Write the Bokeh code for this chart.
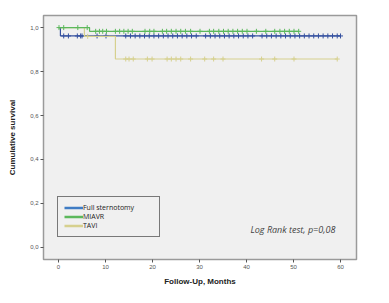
import numpy as np
from bokeh.plotting import figure
from bokeh.models import Range1d, FixedTicker, CustomJSTickFormatter, Label, Legend, LegendItem
from bokeh.embed import file_html
from bokeh.resources import INLINE

# ---- data ----
series_names = ["Full sternotomy", "MIAVR", "TAVI"]
series_colors = ["#34509f", "#5cb85c", "#d6d08e"]

full_t = [0, 0.4, 60]
full_s = [1.0, 0.962, 0.962]
full_cens = [1.1, 2.1, 4.0, 4.7, 5.0, 8.2, 10.1, 14.3, 15.3, 16.3, 17.3, 18.3, 19.3, 20.3,
             21.3, 22.3, 23.3, 24.3, 25.3, 26.3, 27.3, 28.3, 29.3, 31.3, 32.3, 33.3, 34.3,
             35.3, 36.3, 37.3, 38.3, 39.3, 40.3, 41.3, 43.3, 44.3, 45.3, 46.3, 47.3, 48.3,
             49.3, 50.3, 51.3, 52.3, 53.3, 54.3, 55.3, 56.3, 57.3, 58.3, 59.3, 60.0]

miavr_t = [0, 6.6, 51.1]
miavr_s = [1.0, 0.983, 0.983]
miavr_cens = [0.1, 1.1, 4.1, 6.1, 7.9, 8.7, 9.4, 10.2, 12.1, 13.0, 13.9, 14.8, 15.7, 18.4,
              19.4, 20.3, 22.1, 23.0, 24.0, 25.0, 26.0, 27.0, 28.1, 30.1, 32.1, 33.0, 34.1,
              35.1, 36.1, 37.1, 38.1, 39.1, 40.1, 42.1, 44.1, 46.0, 47.1, 48.1, 49.1, 50.1, 51.1]

tavi_t = [0, 5.5, 12.1, 59.3]
tavi_s = [1.0, 0.96, 0.857, 0.857]
tavi_cens = [6.2, 14.3, 15.0, 15.9, 18.9, 19.9, 23.1, 24.0, 25.0, 26.0, 28.1, 31.1, 33.0,
             35.0, 43.2, 46.0, 50.1, 59.3]

y_ticks = [0.0, 0.2, 0.4, 0.6, 0.8, 1.0]
x_ticks = [0, 10, 20, 30, 40, 50, 60]

p = figure(width=381, height=295, output_backend="svg", toolbar_location=None,
           x_range=Range1d(-3.2, 63.4), y_range=Range1d(-0.055, 1.055),
           min_border_left=43, min_border_right=25, min_border_top=15, min_border_bottom=36)
p.background_fill_color = "#f0f0f0"
p.border_fill_color = "white"
p.outline_line_color = "#9a9a9a"
p.outline_line_width = 1.5
p.xgrid.visible = False
p.ygrid.visible = False

fmt = CustomJSTickFormatter(code="return tick.toFixed(1).replace('.', ',');")
p.yaxis.ticker = FixedTicker(ticks=y_ticks)
p.yaxis.formatter = fmt
p.xaxis.ticker = FixedTicker(ticks=x_ticks)
for ax in (p.xaxis[0], p.yaxis[0]):
    ax.axis_line_color = None
    ax.major_tick_line_color = "#555555"
    ax.major_tick_in = 0
    ax.major_tick_out = 3
    ax.minor_tick_line_color = None
    ax.major_label_text_font = "Liberation Sans"
    ax.major_label_text_font_size = "6px"
    ax.major_label_text_color = "#555555"
    ax.major_label_standoff = 2
    ax.axis_label_text_font = "Liberation Sans"
    ax.axis_label_text_font_size = "8px"
    ax.axis_label_text_font_style = "bold"
    ax.axis_label_text_color = "#222222"
p.yaxis.axis_label = "Cumulative survival"
p.xaxis.axis_label = "Follow-Up, Months"
p.yaxis.axis_label_standoff = 10
p.xaxis.axis_label_standoff = 5


def surv_at(times, surv, c):
    idx = np.searchsorted(np.array(times), np.array(c), side="right") - 1
    return list(np.array(surv)[idx])


for name, col, t, s, cens in [
    ("Full sternotomy", series_colors[0], full_t, full_s, full_cens),
    ("TAVI", series_colors[2], tavi_t, tavi_s, tavi_cens),
    ("MIAVR", series_colors[1], miavr_t, miavr_s, miavr_cens),
]:
    p.step(t, s, mode="after", line_color=col, line_width=1.2)
    p.scatter(cens, surv_at(t, s, cens), marker="cross", size=5, line_color=col, line_width=1)

# legend proxies
legend_colors = ["#3f7cc4", "#5cb85c", "#d6d08e"]
leg_items = []
for name, col in zip(series_names, legend_colors):
    r = p.line([np.nan], [np.nan], line_color=col, line_width=2.5)
    leg_items.append(LegendItem(label=name, renderers=[r]))

legend = Legend(items=leg_items, location=(14, 22), border_line_color="black",
                border_line_width=1.5, background_fill_color="#f0f0f0", background_fill_alpha=1,
                label_text_font="Open Sans", label_text_font_size="7px", label_text_color="#222222",
                glyph_width=19, glyph_height=9, label_height=9, spacing=0,
                padding=6, margin=0, label_standoff=0, label_width=70)
p.add_layout(legend, "center")

p.add_layout(Label(x=58.9, y=0.082, text="Log Rank test, p=0,08", text_align="right",
                   text_baseline="middle", text_font="Open Sans", text_font_style="italic",
                   text_font_size="9px", text_color="#444444"))

open("out.html", "w").write(file_html(p, INLINE))
